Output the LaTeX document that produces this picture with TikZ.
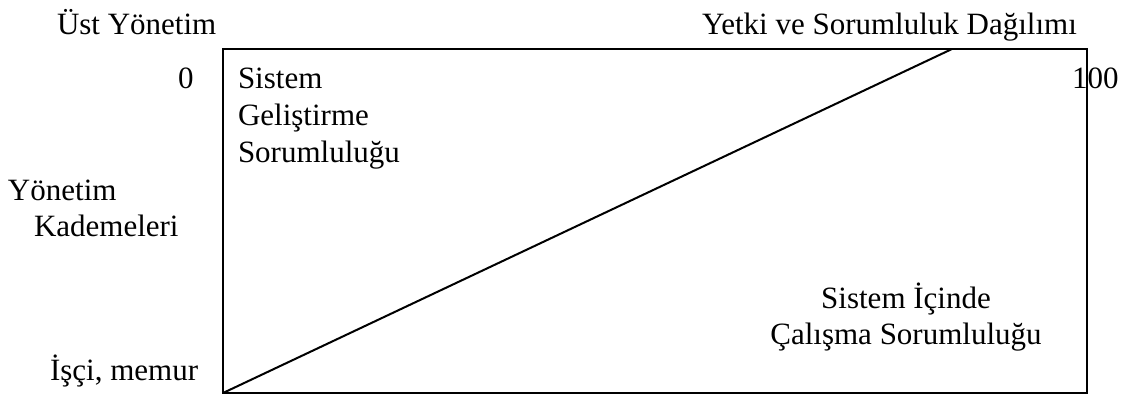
\documentclass[tikz,border=0pt]{standalone}
\usepackage{fontspec}
\setmainfont{Liberation Serif}
\begin{document}
\begin{tikzpicture}[x=0.5pt,y=-0.5pt,
  lbl/.style={anchor=base west,inner sep=0pt,outer sep=0pt,
    font=\fontsize{15.5}{18}\selectfont},
  clbl/.style={lbl,anchor=base},
  frame/.style={draw,line width=1pt,inner sep=0pt,outer sep=0pt,
    minimum width=432pt,minimum height=172pt}]
\useasboundingbox (0,0) rectangle (1124,396);

% main frame and the dividing diagonal
\node[frame] (box) at (655,221) {};
\coordinate (apex) at (952,49);
\draw[line width=1pt] (box.south west) -- (apex);

% axis captions
\node[lbl] (top) at (57,34) {Üst Yönetim};
\node[lbl] (title) at (702,34) {Yetki ve Sorumluluk Dağılımı};
\node[lbl] (zero) at (178,88) {0};
\node[lbl] (hundred) at (1072,88) {100};
\node[lbl] (lvl1) at (8,200) {Yönetim};
\node[lbl] (lvl2) at (34,236) {Kademeleri};
\node[lbl] (bottom) at (50,380) {İşçi, memur};

% upper-left region
\node[lbl] (dev1) at (238,88) {Sistem};
\node[lbl] (dev2) at (238,125) {Geliştirme};
\node[lbl] (dev3) at (238,162) {Sorumluluğu};

% lower-right region
\node[clbl] (work1) at (906,308) {Sistem İçinde};
\node[clbl] (work2) at (906,344) {Çalışma Sorumluluğu};
\end{tikzpicture}
\end{document}
